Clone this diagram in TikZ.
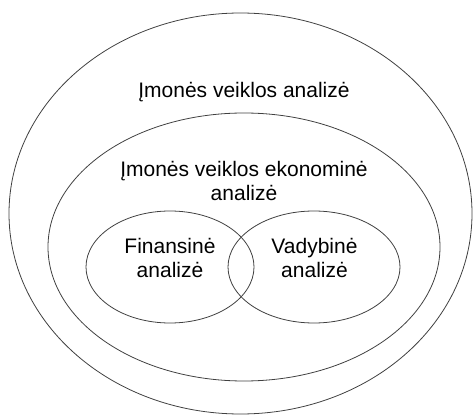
\documentclass[tikz,border=0pt]{standalone}
\usepackage{fontspec}
\setmainfont{Liberation Sans}
\usetikzlibrary{positioning,shapes.geometric}

\begin{document}
\begin{tikzpicture}[x=1pt, y=1pt, text centered]
    \tikzset{%
      sritis/.style={draw=black!75, line width=0.8pt, ellipse, inner sep=0pt, outer sep=0pt},
      tekstas/.style={font=\fontsize{21}{24}\selectfont, align=center, inner sep=0pt}
      }
     \useasboundingbox (0,0) rectangle (473,415);

     \node [sritis, minimum width=463, minimum height=401] (Veikla) at (240.5,201.5) {};
     \node [sritis, minimum width=392, minimum height=268] (Ekon) at (244,168) {};
     \node [sritis, minimum width=168, minimum height=112] (Fin) at (170,148) {};
     \node [sritis, minimum width=172, minimum height=112] (Vad) at (314,148) {};

     \node [tekstas, anchor=base] (VeiklaT) at (244,317) {Įmonės veiklos analizė};
     \node [tekstas, anchor=base] (EkonT) at (244,214) {Įmonės veiklos ekonominė\\analizė};
     \node [tekstas, anchor=base] (FinT) at (170,137.7) {Finansinė\\analizė};
     \node [tekstas, anchor=base] (VadT) at (314.5,137.7) {Vadybinė\\analizė};

  \end{tikzpicture}
\end{document}
